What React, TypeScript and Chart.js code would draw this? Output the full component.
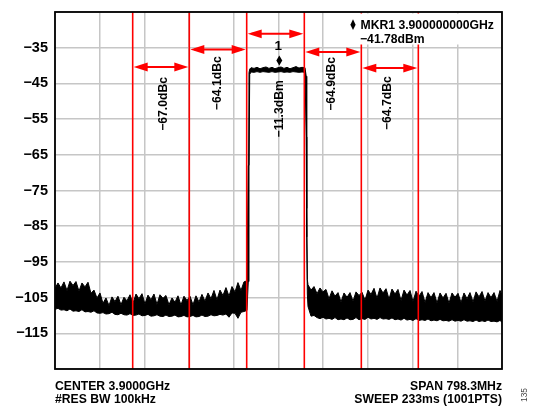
import React, { useEffect, useRef } from 'react';
import { Chart, registerables } from 'chart.js';

Chart.register(...registerables);

// ---------- data ----------
const CENTER_MHZ = 3900;
const SPAN_MHZ = 798.3;
const Y_MIN = -125;
const Y_MAX = -25;

const yTickLevels = [-125, -115, -105, -95, -85, -75, -65, -55, -45, -35, -25];
const yTickLabels = ['', '\u2212115', '\u2212105', '\u221295', '\u221285', '\u221275', '\u221265', '\u221255', '\u221245', '\u221235', ''];

// sweep trace: frequency (MHz), upper and lower envelope of the displayed trace (dBm)
const traceFreqMHz = [
  // lower adjacent region
  3500.8, 3506.2, 3511.5, 3516.9, 3522.3, 3527.6, 3533.0, 3538.3, 3543.7, 3549.0,
  3554.4, 3559.8, 3565.1, 3570.5, 3575.8, 3581.2, 3586.5, 3591.9, 3597.3, 3602.6,
  3608.0, 3613.3, 3618.7, 3624.0, 3629.4, 3634.8, 3640.1, 3645.5, 3650.8, 3656.2,
  3661.5, 3666.9, 3672.3, 3677.6, 3683.0, 3688.3, 3693.7, 3699.0, 3704.4, 3709.8,
  3715.1, 3720.5, 3725.8, 3731.2, 3736.6, 3741.9, 3747.3, 3752.6, 3758.0, 3763.3,
  3768.7, 3774.1, 3779.4, 3784.8, 3790.1, 3795.5, 3800.8, 3806.2, 3811.6, 3816.9,
  3822.3, 3827.6, 3833.0, 3838.3, 3843.7,
  // rising edge
  3846.0, 3847.3, 3848.6,
  // carrier
  3850.9, 3856.3, 3861.6, 3867.0, 3872.3, 3877.7, 3883.0, 3888.4, 3893.7, 3899.1,
  3904.5, 3909.8, 3915.2, 3920.5, 3925.9, 3931.3, 3936.6, 3942.0, 3947.3,
  // falling edge
  3949.5, 3950.4, 3951.5,
  // upper adjacent region
  3952.7, 3958.1, 3963.4, 3968.8, 3974.1, 3979.5, 3984.8, 3990.2, 3995.6, 4000.9,
  4006.3, 4011.6, 4017.0, 4022.4, 4027.7, 4033.1, 4038.4, 4043.8, 4049.1, 4054.5,
  4059.9, 4065.2, 4070.6, 4075.9, 4081.3, 4086.7, 4092.0, 4097.4, 4102.7, 4108.1,
  4113.4, 4118.8, 4124.2, 4129.5, 4134.9, 4140.2, 4145.6, 4150.9, 4156.3, 4161.7,
  4167.0, 4172.4, 4177.7, 4183.1, 4188.5, 4193.8, 4199.2, 4204.5, 4209.9, 4215.2,
  4220.6, 4226.0, 4231.3, 4236.7, 4242.0, 4247.4, 4252.8, 4258.1, 4263.5, 4268.8,
  4274.2, 4279.5, 4284.9, 4290.3, 4295.6, 4299.1,
];

const traceUpperDbm = [
  -102.4, -100.9, -102.3, -100.6, -103.0, -100.4, -101.6, -100.5, -103.2, -100.9,
  -102.0, -100.7, -103.8, -102.9, -105.1, -103.7, -106.6, -105.1, -107.2, -104.8,
  -106.1, -104.6, -107.0, -104.9, -105.9, -104.2, -106.6, -104.0, -105.3, -103.9,
  -106.8, -104.3, -105.6, -104.0, -106.9, -104.2, -105.2, -104.4, -107.0, -105.1,
  -106.3, -104.5, -107.1, -104.6, -105.8, -104.6, -107.0, -104.5, -106.2, -104.1,
  -106.0, -103.7, -105.3, -103.0, -105.6, -102.9, -104.4, -102.2, -104.6, -101.9,
  -103.4, -100.8, -103.0, -100.6, -100.3,
  -68.0, -42.0, -41.0,
  -40.6, -40.8, -40.5, -40.9, -40.6, -40.4, -40.8, -40.5, -40.9, -40.6,
  -40.4, -40.8, -40.5, -40.9, -40.6, -40.3, -40.7, -40.5, -40.6,
  -43.0, -80.0, -100.0,
  -101.4, -102.9, -101.9, -103.9, -102.3, -103.4, -102.7, -105.3, -103.1, -104.6,
  -103.6, -106.2, -103.7, -104.9, -103.6, -106.0, -103.4, -104.4, -103.5, -105.7,
  -102.9, -104.1, -102.4, -105.2, -102.3, -103.7, -102.5, -105.4, -102.6, -104.0,
  -102.7, -105.8, -102.9, -104.3, -103.0, -106.1, -103.2, -104.6, -103.3, -106.4,
  -103.6, -105.0, -103.6, -106.5, -103.7, -105.1, -103.8, -106.6, -103.7, -104.9,
  -103.8, -106.4, -103.7, -105.3, -103.6, -106.2, -103.4, -104.8, -103.3, -106.0,
  -103.6, -105.0, -103.6, -106.1, -103.0, -104.2,
];

const traceLowerDbm = [
  -108.3, -108.0, -108.5, -108.4, -108.7, -108.2, -108.8, -108.7, -108.9, -108.4,
  -109.0, -108.9, -109.1, -108.7, -109.3, -109.4, -109.2, -109.6, -109.5, -109.1,
  -109.7, -109.8, -109.4, -109.8, -109.9, -109.5, -110.0, -109.9, -109.6, -110.1,
  -110.0, -109.7, -110.2, -110.1, -109.8, -110.2, -110.3, -109.9, -110.3, -110.2,
  -109.9, -110.4, -110.3, -110.0, -110.4, -110.3, -110.0, -110.4, -110.3, -109.9,
  -110.3, -110.2, -109.8, -110.1, -110.0, -109.7, -109.9, -109.6, -110.5, -109.3,
  -109.4, -110.8, -109.1, -108.9, -108.6,
  -100.5, -68.0, -42.5,
  -41.8, -41.9, -41.7, -41.9, -41.7, -41.8, -41.9, -41.7, -41.9, -41.8,
  -41.7, -41.9, -41.8, -41.9, -41.7, -41.8, -41.9, -41.8, -41.9,
  -60.0, -88.0, -104.0,
  -107.5, -110.2, -110.0, -110.6, -110.9, -110.5, -111.0, -110.8, -111.1, -110.6,
  -111.2, -111.0, -111.2, -110.7, -111.2, -111.1, -110.6, -111.2, -110.9, -111.1,
  -110.5, -111.0, -110.8, -111.1, -110.6, -111.0, -110.9, -111.1, -110.7, -111.2,
  -111.0, -111.3, -110.8, -111.3, -111.1, -111.4, -110.9, -111.4, -111.2, -111.4,
  -111.0, -111.5, -111.3, -111.5, -111.1, -111.5, -111.4, -111.6, -111.2, -111.6,
  -111.4, -111.6, -111.2, -111.6, -111.5, -111.7, -111.3, -111.7, -111.5, -111.7,
  -111.3, -111.7, -111.6, -111.8, -111.4, -111.9,
];

// channel boundaries (MHz), measurement arrows (dBm) and results
const channelEdgesMHz = [3639.6, 3740.7, 3843.2, 3946.1, 4047.9, 4149.7];
const arrowLevelsDbm = [-40.4, -35.5, -31.1, -36.2, -40.7];
const channelPowerLabels = ['\u221267.0dBc', '\u221264.1dBc', '\u221211.3dBm', '\u221264.9dBc', '\u221264.7dBc'];
const labelTopDbm = [-43.2, -37.4, -44.1, -37.6, -43.0];

const markerFreqMHz = 3900;
const markerLevelDbm = -41.78;
const markerNumber = '1';
const markerReadout = ['MKR1 3.900000000GHz', '\u221241.78dBm'];

const footerLeft = ['CENTER 3.9000GHz', '#RES BW 100kHz'];
const footerRight = ['SPAN 798.3MHz', 'SWEEP 233ms (1001PTS)'];
const figureId = '135';

// ---------- style ----------
const FONT = '"Liberation Sans", Arial, Helvetica, sans-serif';
const RED = '#ff0000';
const GRID = '#c6c6c6';
const labelDx = [2.8, 0, 3.8, -1.6, -2];

const annotPlugin = {
  id: 'specAnnot',
  afterDatasetsDraw(chart: any) {
    const { ctx, chartArea: ca } = chart;
    const xs = chart.scales.x;
    const ys = chart.scales.y;
    ctx.save();

    // channel boundary lines
    ctx.strokeStyle = RED;
    ctx.lineWidth = 1.6;
    channelEdgesMHz.forEach((f) => {
      const px = xs.getPixelForValue(f);
      ctx.beginPath();
      ctx.moveTo(px, ca.top);
      ctx.lineTo(px, ca.bottom);
      ctx.stroke();
    });

    // double arrows
    const headLen = 14;
    const headHalf = 4.4;
    arrowLevelsDbm.forEach((lvl, i) => {
      const x1 = xs.getPixelForValue(channelEdgesMHz[i]) + 1;
      const x2 = xs.getPixelForValue(channelEdgesMHz[i + 1]) - 1;
      const py = ys.getPixelForValue(lvl);
      ctx.strokeStyle = RED;
      ctx.fillStyle = RED;
      ctx.lineWidth = 2;
      ctx.beginPath();
      ctx.moveTo(x1 + 4, py);
      ctx.lineTo(x2 - 4, py);
      ctx.stroke();
      ctx.beginPath();
      ctx.moveTo(x1, py);
      ctx.lineTo(x1 + headLen, py - headHalf);
      ctx.lineTo(x1 + headLen, py + headHalf);
      ctx.closePath();
      ctx.fill();
      ctx.beginPath();
      ctx.moveTo(x2, py);
      ctx.lineTo(x2 - headLen, py - headHalf);
      ctx.lineTo(x2 - headLen, py + headHalf);
      ctx.closePath();
      ctx.fill();
    });

    // rotated channel power labels
    ctx.fillStyle = '#000';
    ctx.font = `bold 12.2px ${FONT}`;
    channelPowerLabels.forEach((t, i) => {
      const cx = (xs.getPixelForValue(channelEdgesMHz[i]) + xs.getPixelForValue(channelEdgesMHz[i + 1])) / 2 + labelDx[i];
      const top = ys.getPixelForValue(labelTopDbm[i]);
      ctx.save();
      ctx.translate(cx, top);
      ctx.rotate(-Math.PI / 2);
      ctx.textAlign = 'right';
      ctx.textBaseline = 'middle';
      ctx.fillText(t, 0, 0);
      ctx.restore();
    });

    // marker diamond and number
    const mx = xs.getPixelForValue(markerFreqMHz) + 0.8;
    const my = ys.getPixelForValue(markerLevelDbm) - 11.5;
    ctx.fillStyle = '#000';
    ctx.beginPath();
    ctx.moveTo(mx, my - 5);
    ctx.lineTo(mx + 3, my);
    ctx.lineTo(mx, my + 5);
    ctx.lineTo(mx - 3, my);
    ctx.closePath();
    ctx.fill();
    ctx.font = `bold 13.5px ${FONT}`;
    ctx.textAlign = 'center';
    ctx.textBaseline = 'alphabetic';
    ctx.fillText(markerNumber, mx - 1, my - 10);

    // marker readout box
    ctx.fillStyle = '#fff';
    ctx.fillRect(347, ca.top + 1.5, 152, 31);
    ctx.fillStyle = '#000';
    ctx.beginPath();
    ctx.moveTo(353, 19.3);
    ctx.lineTo(355.6, 24.7);
    ctx.lineTo(353, 30);
    ctx.lineTo(350.4, 24.7);
    ctx.closePath();
    ctx.fill();
    ctx.font = `bold 12.2px ${FONT}`;
    ctx.textAlign = 'left';
    ctx.fillText(markerReadout[0], 360.5, 29.3);
    ctx.fillText(markerReadout[1], 360, 42.5);

    // frame
    ctx.strokeStyle = '#000';
    ctx.lineWidth = 1.8;
    ctx.strokeRect(ca.left, ca.top, ca.right - ca.left, ca.bottom - ca.top);

    // footer
    ctx.fillStyle = '#000';
    ctx.font = `bold 12.2px ${FONT}`;
    ctx.textAlign = 'left';
    ctx.fillText(footerLeft[0], ca.left, 389.5);
    ctx.fillText(footerLeft[1], ca.left, 402.5);
    ctx.textAlign = 'right';
    ctx.fillText(footerRight[0], ca.right, 389.5);
    ctx.fillText(footerRight[1], ca.right, 402.5);

    ctx.save();
    ctx.translate(525, 395);
    ctx.rotate(-Math.PI / 2);
    ctx.font = `8.5px ${FONT}`;
    ctx.fillStyle = '#444';
    ctx.textAlign = 'center';
    ctx.textBaseline = 'middle';
    ctx.fillText(figureId, 0, 0);
    ctx.restore();

    ctx.restore();
  },
};

export default function App() {
  const ref = useRef<HTMLCanvasElement>(null);
  useEffect(() => {
    document.body.style.margin = '0';
    const canvas = ref.current;
    if (!canvas) return;
    const xMin = CENTER_MHZ - SPAN_MHZ / 2;
    const xMax = CENTER_MHZ + SPAN_MHZ / 2;
    const xGrid = Array.from({ length: 11 }, (_, i) => xMin + (i * SPAN_MHZ) / 10);

    const chart = new Chart(canvas, {
      type: 'line',
      data: {
        datasets: [
          {
            label: 'upper',
            data: traceFreqMHz.map((f, i) => ({ x: f, y: traceUpperDbm[i] })),
            borderColor: '#000',
            borderWidth: 1,
            pointRadius: 0,
            fill: false,
            tension: 0,
          },
          {
            label: 'lower',
            data: traceFreqMHz.map((f, i) => ({ x: f, y: traceLowerDbm[i] })),
            borderColor: '#000',
            borderWidth: 1,
            pointRadius: 0,
            fill: '-1',
            backgroundColor: '#000',
            tension: 0,
          },
        ],
      },
      options: {
        responsive: false,
        animation: false,
        devicePixelRatio: 1,
        layout: { padding: { top: 12, right: 33, bottom: 38, left: 0 } },
        plugins: { legend: { display: false }, tooltip: { enabled: false } },
        scales: {
          x: {
            type: 'linear',
            min: xMin,
            max: xMax,
            afterBuildTicks: (s: any) => {
              s.ticks = xGrid.map((v) => ({ value: v }));
            },
            ticks: { display: false },
            grid: { color: GRID, lineWidth: 1.5, drawTicks: false },
            border: { display: false },
            afterFit: (s: any) => {
              s.height = 0;
              s.paddingLeft = 0;
              s.paddingRight = 0;
            },
          },
          y: {
            type: 'linear',
            min: Y_MIN,
            max: Y_MAX,
            afterBuildTicks: (s: any) => {
              s.ticks = yTickLevels.map((v) => ({ value: v }));
            },
            ticks: {
              callback: (v: any) => {
                const idx = yTickLevels.indexOf(Number(v));
                return idx >= 0 ? yTickLabels[idx] : '';
              },
              font: { family: FONT, size: 14.5, weight: 'bold' },
              color: '#000',
              padding: 7,
            },
            grid: { color: GRID, lineWidth: 1.5, drawTicks: false },
            border: { display: false },
            afterFit: (s: any) => {
              s.width = 55;
              s.paddingTop = 0;
              s.paddingBottom = 0;
            },
          },
        },
      } as any,
      plugins: [annotPlugin],
    });
    return () => chart.destroy();
  }, []);

  return <canvas ref={ref} width={535} height={407} style={{ display: 'block' }} />;
}
